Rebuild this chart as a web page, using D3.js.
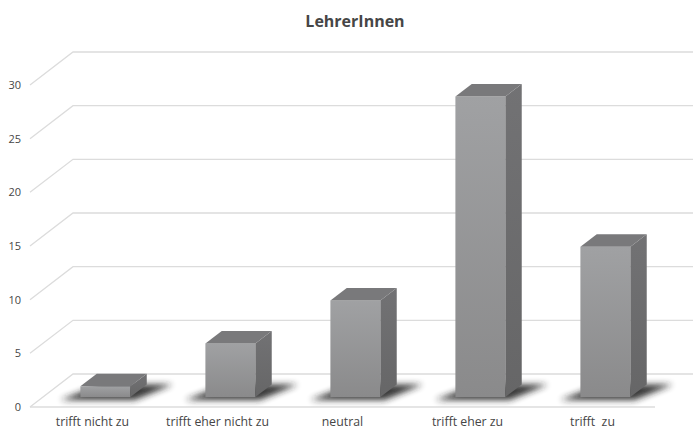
<!DOCTYPE html>
<html>
<head>
<meta charset="utf-8">
<script src="https://cdn.jsdelivr.net/npm/d3@7"></script>
<style>
  html, body { margin: 0; padding: 0; background: #fff; }
  svg { display: block; }
  text { font-family: "Open Sans", "Noto Sans", sans-serif; fill: #464646; }
</style>
</head>
<body>
<svg id="chart" width="693" height="430"></svg>
<script>
// Survey answers of teachers
const title = "LehrerInnen";
const categories = ["trifft nicht zu", "trifft eher nicht zu", "neutral", "trifft eher zu", "trifft  zu"];
const values = [1, 5, 9, 28, 14];
const yTicks = [0, 5, 10, 15, 20, 25, 30];

const W = 693, H = 430;
const svg = d3.select("#chart");

// Front plane of the 3D box
const floorLeft = 30, floorRight = 655, floorFront = 407, top30 = 85;
// Perspective depth vector (front edge -> back wall)
const DX = 43, DY = -33;
// Depth range occupied by the columns
const d0 = 0.3, d1 = 0.68;

const x = d3.scaleBand().domain(categories).range([floorLeft, floorRight])
  .paddingInner(0.6).paddingOuter(0.3);
const slot = d3.scaleBand().domain(categories).range([floorLeft, floorRight]);
const y = d3.scaleLinear().domain([0, 30]).range([floorFront, top30]);

const defs = svg.append("defs");
defs.append("filter").attr("id", "shadowBlur")
  .attr("x", "-50%").attr("y", "-100%").attr("width", "200%").attr("height", "300%")
  .append("feGaussianBlur").attr("stdDeviation", 3.4);
const gFront = defs.append("linearGradient").attr("id", "frontGrad")
  .attr("x1", 0).attr("y1", 0).attr("x2", 0).attr("y2", 1);
gFront.append("stop").attr("offset", "0%").attr("stop-color", "#a0a1a3");
gFront.append("stop").attr("offset", "100%").attr("stop-color", "#8a8a8b");
const gSide = defs.append("linearGradient").attr("id", "sideGrad")
  .attr("x1", 0).attr("y1", 0).attr("x2", 0).attr("y2", 1);
gSide.append("stop").attr("offset", "0%").attr("stop-color", "#727274");
gSide.append("stop").attr("offset", "100%").attr("stop-color", "#666667");

// Gridlines: back wall and left side wall
const grid = svg.append("g").attr("stroke", "#dcdcdc").attr("stroke-width", 1.3).attr("fill", "none");
yTicks.forEach(t => {
  const yf = y(t), yb = y(t) + DY;
  grid.append("path").attr("d", `M${floorLeft},${yf}L${floorLeft + DX},${yb}L${W},${yb}`);
});
// Front edge of the floor
grid.append("line")
  .attr("x1", floorLeft).attr("x2", floorRight)
  .attr("y1", floorFront).attr("y2", floorFront);

// Y axis tick labels
svg.append("g").selectAll("text").data(yTicks).join("text")
  .attr("x", 21).attr("y", d => y(d)).attr("dy", "0.35em")
  .attr("text-anchor", "end").attr("font-size", 11).text(d => d);

// Columns
const bars = svg.append("g").selectAll("g").data(categories).join("g");

const pt = (px, py) => `${px.toFixed(2)},${py.toFixed(2)}`;

// Soft floor shadows
bars.append("polygon")
  .attr("filter", "url(#shadowBlur)")
  .attr("fill", "#202020").attr("opacity", 0.9)
  .attr("points", (c) => {
    const bx = x(c), bw = x.bandwidth();
    const fy = floorFront + d0 * DY + 1, by = floorFront + d1 * DY;
    return [
      pt(bx - 20 + d0 * DX, fy + 2),
      pt(bx + bw + 4 + d0 * DX, fy + 2),
      pt(bx + bw + 26 + d1 * DX, by),
      pt(bx + 4 + d1 * DX, by)
    ].join(" ");
  });

bars.each(function(c, i) {
  const g = d3.select(this);
  const v = values[i];
  const bw = x.bandwidth();
  const fx0 = x(c) + d0 * DX, fx1 = fx0 + bw;
  const fyBot = y(0) + d0 * DY, fyTop = y(v) + d0 * DY;
  const ddx = (d1 - d0) * DX, ddy = (d1 - d0) * DY;
  // front face
  g.append("rect").attr("x", fx0).attr("y", fyTop)
    .attr("width", bw).attr("height", fyBot - fyTop)
    .attr("fill", "url(#frontGrad)");
  // right side face
  g.append("polygon").attr("fill", "url(#sideGrad)")
    .attr("points", [pt(fx1, fyTop), pt(fx1 + ddx, fyTop + ddy), pt(fx1 + ddx, fyBot + ddy), pt(fx1, fyBot)].join(" "));
  // top face
  g.append("polygon").attr("fill", "#79797b")
    .attr("points", [pt(fx0, fyTop), pt(fx1, fyTop), pt(fx1 + ddx, fyTop + ddy), pt(fx0 + ddx, fyTop + ddy)].join(" "));
});

// Category labels along the front edge
svg.append("g").selectAll("text").data(categories).join("text")
  .attr("x", d => slot(d) + slot.bandwidth() / 2)
  .attr("y", 426)
  .attr("text-anchor", "middle").attr("font-size", 12.3)
  .style("white-space", "pre").attr("xml:space", "preserve")
  .text(d => d);

// Title
svg.append("text").attr("x", 355).attr("y", 27)
  .attr("text-anchor", "middle").attr("font-size", 16).attr("font-weight", "bold")
  .text(title);
</script>
</body>
</html>
